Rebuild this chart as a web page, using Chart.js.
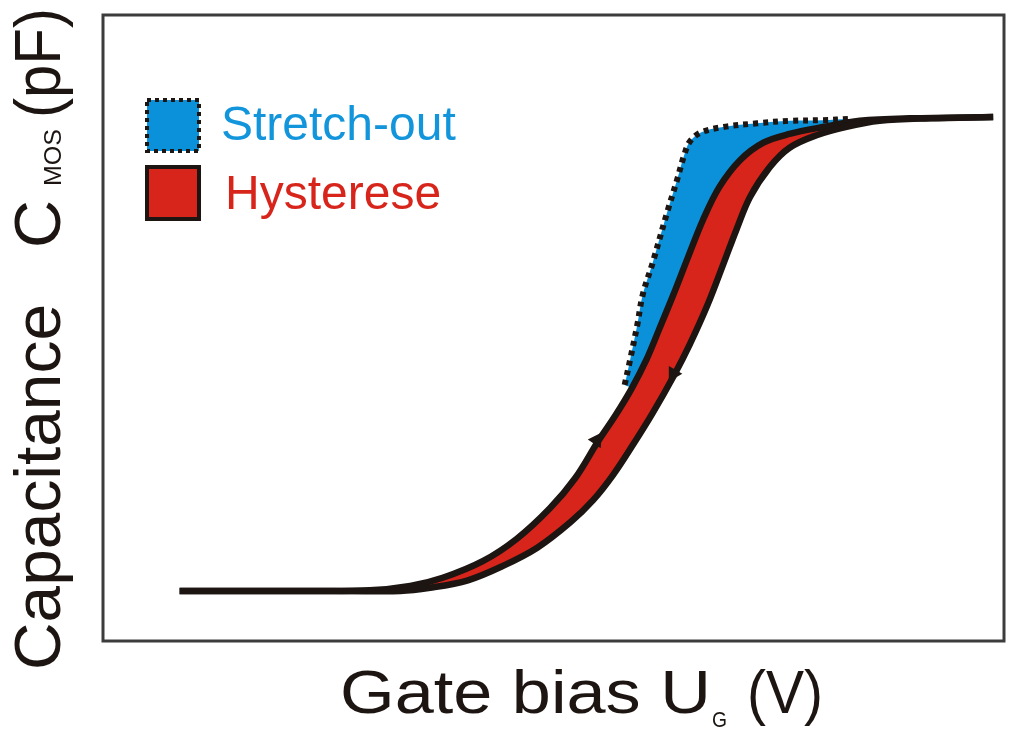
<!DOCTYPE html>
<html>
<head>
<meta charset="utf-8">
<script src="https://cdn.jsdelivr.net/npm/chart.js@4.4.0/dist/chart.umd.min.js"></script>
<style>
  html, body { margin: 0; padding: 0; background: #fff; }
</style>
</head>
<body>
<canvas id="cvChart" width="1014" height="731"></canvas>
<script>
// forward sweep (accumulation -> inversion), arbitrary units 0..100
const upX = [8.5, 21.9, 29.6, 34.1, 37.7, 42.2, 45.9, 49.6, 52.4, 54.9, 56.9, 58.7, 60.3, 61.7, 63.3, 64.9, 66.6, 68.4, 70.7, 73.3, 76.2, 79.9, 84.0, 89.6, 98.8];
const upY = [8.0, 8.0, 8.1, 8.8, 10.1, 12.8, 16.3, 21.2, 26.0, 31.8, 36.1, 40.4, 44.9, 49.7, 55.3, 61.2, 67.3, 72.5, 76.8, 79.6, 81.0, 82.1, 83.1, 83.5, 83.7];

// backward sweep
const downX = [98.8, 91.8, 86.2, 82.4, 79.2, 76.2, 74.0, 71.8, 70.3, 68.9, 67.1, 65.1, 63.4, 61.0, 58.8, 56.6, 54.4, 51.9, 48.2, 44.4, 40.5, 36.3, 33.0, 21.9, 8.5];
const downY = [83.7, 83.5, 83.1, 82.1, 80.8, 78.8, 75.7, 70.9, 65.7, 60.4, 53.7, 47.3, 42.5, 36.4, 31.3, 26.5, 22.5, 19.0, 14.9, 12.0, 9.7, 8.5, 8.0, 8.0, 8.0];

// stretch-out curve (dotted)
const stretchX = [57.9, 58.5, 59.3, 59.9, 61.0, 62.6, 63.7, 64.5, 65.1, 66.3, 68.8, 72.6, 76.2, 79.9, 82.9];
const stretchY = [40.9, 44.9, 50.5, 55.3, 60.4, 68.4, 73.6, 77.6, 79.7, 81.2, 82.1, 82.7, 83.1, 83.2, 83.4];

// sweep direction arrows
const arrowX = [54.8, 63.3];
const arrowY = [32.1, 42.7];
const arrowAngle = [34, 210];

const legendLabels = ['Stretch-out', 'Hysterese'];
const xTitle = ['Gate bias U', 'G', '(V)'];
const yTitle = ['Capacitance', 'C', 'MOS', '(pF)'];

const BLUE = '#0a91d9';
const RED = '#d8251b';
const INK = '#1c1512';
const FONT = '"Liberation Sans", Arial, Helvetica, sans-serif';

const toPts = (xs, ys) => xs.map((x, i) => ({ x: x, y: ys[i] }));
const upPts = toPts(upX, upY);
const downPts = toPts(downX, downY);
const stretchPts = toPts(stretchX, stretchY);

// closed outlines for the two shaded areas
const hystLoop = upPts.concat(downPts.slice(1));
const stretchLoop = stretchPts.concat(
  upPts.filter(p => p.x >= stretchX[0] && p.x <= stretchX[stretchX.length - 1] + 1.5).reverse()
);

// each part: text, font size, baseline shift, start along the line, target length
function drawTitle(ctx, parts, x, y, angle) {
  ctx.save();
  ctx.translate(x, y);
  ctx.rotate(angle);
  ctx.fillStyle = INK;
  ctx.textBaseline = 'alphabetic';
  ctx.textAlign = 'left';
  parts.forEach(p => {
    ctx.font = p.size + 'px ' + FONT;
    const w = ctx.measureText(p.text).width;
    ctx.save();
    ctx.translate(p.at, p.dy);
    ctx.scale(p.len / w, 1);
    ctx.fillText(p.text, 0, 0);
    ctx.restore();
  });
  ctx.restore();
}

const decor = {
  id: 'decor',
  afterDraw(chart) {
    const ctx = chart.ctx;
    const a = chart.chartArea;

    // frame
    ctx.save();
    ctx.strokeStyle = '#3c3c3c';
    ctx.lineWidth = 3;
    ctx.strokeRect(a.left, a.top, a.right - a.left, a.bottom - a.top);
    ctx.restore();

    // legend
    ctx.save();
    ctx.fillStyle = BLUE;
    ctx.fillRect(147, 100, 52, 51);
    ctx.strokeStyle = INK;
    ctx.lineWidth = 4;
    ctx.setLineDash([4, 4]);
    ctx.strokeRect(147, 100, 52, 51);
    ctx.setLineDash([]);
    ctx.fillStyle = RED;
    ctx.fillRect(147, 167, 52, 52);
    ctx.lineWidth = 4;
    ctx.strokeRect(147, 167, 52, 52);

    ctx.font = '48px ' + FONT;
    ctx.textBaseline = 'alphabetic';
    ctx.fillStyle = '#1395dc';
    ctx.fillText(legendLabels[0], 221, 140);
    ctx.fillStyle = RED;
    ctx.fillText(legendLabels[1], 225, 209);
    ctx.restore();

    // axis titles
    drawTitle(ctx, [
      { text: xTitle[0], size: 62, dy: 0, at: 0, len: 371 },
      { text: xTitle[1], size: 22, dy: 14, at: 372, len: 15 },
      { text: xTitle[2], size: 62, dy: 0, at: 407, len: 76 }
    ], 340, 713, 0);

    drawTitle(ctx, [
      { text: yTitle[0], size: 64, dy: 0, at: 0, len: 366 },
      { text: yTitle[1], size: 64, dy: 0, at: 422, len: 48 },
      { text: yTitle[2], size: 24, dy: 1, at: 484, len: 57 },
      { text: yTitle[3], size: 64, dy: 0, at: 552, len: 110 }
    ], 60, 670, -Math.PI / 2);
  }
};

const ctx = document.getElementById('cvChart').getContext('2d');
new Chart(ctx, {
  type: 'line',
  data: {
    datasets: [
      {
        label: 'backward',
        data: downPts,
        borderColor: INK,
        borderWidth: 6.5,
        tension: 0.35,
        pointRadius: 0,
        fill: false,
        order: 2
      },
      {
        label: 'forward',
        data: upPts,
        borderColor: INK,
        borderWidth: 6.5,
        tension: 0.35,
        pointRadius: 0,
        fill: false,
        order: 2
      },
      {
        label: 'stretch-out curve',
        data: stretchPts,
        borderColor: INK,
        borderWidth: 6,
        borderDash: [5, 5],
        tension: 0.35,
        pointRadius: 0,
        fill: false,
        order: 1
      },
      {
        label: 'arrows',
        data: toPts(arrowX, arrowY),
        showLine: false,
        pointStyle: 'triangle',
        pointRotation: arrowAngle,
        pointRadius: 9,
        pointBackgroundColor: INK,
        pointBorderWidth: 0,
        order: 0
      },
      {
        label: legendLabels[1],
        data: hystLoop,
        borderWidth: 0,
        borderColor: 'rgba(0,0,0,0)',
        backgroundColor: RED,
        tension: 0.35,
        pointRadius: 0,
        fill: 'shape',
        order: 4
      },
      {
        label: legendLabels[0],
        data: stretchLoop,
        borderWidth: 0,
        borderColor: 'rgba(0,0,0,0)',
        backgroundColor: BLUE,
        tension: 0.35,
        pointRadius: 0,
        fill: 'shape',
        order: 5
      }
    ]
  },
  options: {
    responsive: false,
    animation: false,
    layout: { padding: { left: 103, top: 15, right: 10, bottom: 90 } },
    scales: {
      x: { type: 'linear', min: 0, max: 100, display: false },
      y: { type: 'linear', min: 0, max: 100, display: false }
    },
    plugins: {
      legend: { display: false },
      tooltip: { enabled: false }
    }
  },
  plugins: [decor]
});
</script>
</body>
</html>
